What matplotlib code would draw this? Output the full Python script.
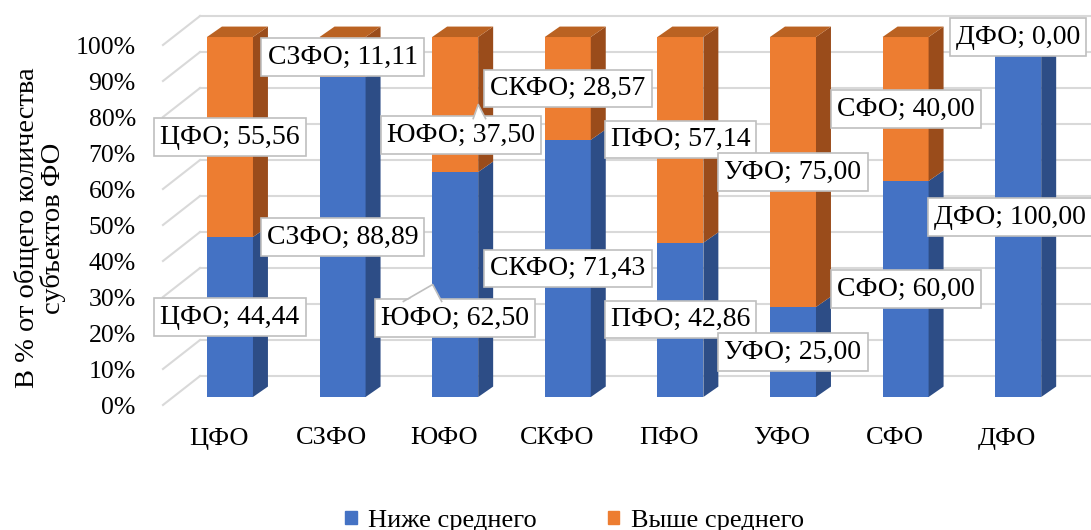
import matplotlib
matplotlib.use("Agg")
import matplotlib.pyplot as plt
from matplotlib.patches import Polygon, Patch
from matplotlib.transforms import ScaledTranslation

plt.rcParams['font.family'] = ['Liberation Serif', 'DejaVu Serif']

# data
districts = ["ЦФО", "СЗФО", "ЮФО", "СКФО", "ПФО", "УФО", "СФО", "ДФО"]
below_avg = [44.44, 88.89, 62.50, 71.43, 42.86, 25.00, 60.00, 100.00]
above_avg = [55.56, 11.11, 37.50, 28.57, 57.14, 75.00, 40.00, 0.00]
series_names = ["Ниже среднего", "Выше среднего"]
yticks = list(range(0, 101, 10))

# hand-moved labels (category index, series) -> (dx, dy) in data units
moved = {(2, 1): (0.05, -8.5), (2, 0): (0.0, -9.3), (7, 0): (-0.07, 0)}
pointer = {(2, 1): (0.16, 0.27, 0.205), (2, 0): (-0.46, -0.12, -0.20)}

blue = {"front": "#4472C4", "top": "#3A62A8", "side": "#2D4D86"}
orange = {"front": "#ED7D31", "top": "#BA6222", "side": "#9A4C1B"}
grid_c = "#D9D9D9"

fig = plt.figure(figsize=(10.91, 5.30), dpi=100)
W, H = 1091, 530
ax = fig.add_axes([140 / W, (H - 415) / H, (W - 140) / W, 415 / H])
ax.set_xlim(-0.799, 7.6465)
ax.set_ylim(-5.0, 110.28)
for s in ax.spines.values():
    s.set_visible(False)

bw = 0.4085       # bar width
ddx, ddy = 0.133, 2.9   # depth offset of the bars
wdx, wdy = -0.266, 5.83  # back wall
fx, fy = -0.595, -2.22   # front floor edge

# walls / gridlines
for v in yticks:
    ax.plot([fx, wdx], [v + fy, v + wdy], color=grid_c, lw=1.5, zorder=0)
    ax.plot([wdx, 7.7], [v + wdy, v + wdy], color=grid_c, lw=1.5, zorder=0)

# bars
x = list(range(len(districts)))
ax.bar(x, below_avg, width=bw, color=blue["front"], zorder=3)
ax.bar(x, above_avg, width=bw, bottom=below_avg, color=orange["front"], zorder=3)

for i in x:
    segs = [(0, below_avg[i], blue), (below_avg[i], below_avg[i] + above_avg[i], orange)]
    for b, t, col in segs:
        if t - b <= 0:
            continue
        r = i + bw / 2
        ax.add_patch(Polygon([(r, b), (r + ddx, b + ddy), (r + ddx, t + ddy), (r, t)],
                             closed=True, fc=col["side"], ec="none", zorder=3))
    top = below_avg[i] + above_avg[i]
    tcol = orange if above_avg[i] > 0 else blue
    l = i - bw / 2
    ax.add_patch(Polygon([(l, top), (l + ddx, top + ddy), (l + bw + ddx, top + ddy), (l + bw, top)],
                         closed=True, fc=tcol["top"], ec="none", zorder=3))

# data labels
box = dict(boxstyle="square,pad=0.22", fc="white", ec="#BFBFBF", lw=1.2)
for i in x:
    for k, (b, v) in enumerate([(0, below_avg[i]), (below_avg[i], above_avg[i])]):
        cy = b + v / 2
        dx, dy = moved.get((i, k), (0, 0))
        txt = f"{districts[i]}; {v:.2f}".replace(".", ",")
        ax.text(i + dx, cy + dy, txt, ha="center", va="center", fontsize=20,
                bbox=box, zorder=10, clip_on=False)
        if (i, k) in pointer:
            b1, b2, tip = pointer[(i, k)]
            ytop = cy + dy + 4.6
            ax.add_patch(Polygon([(i + b1, ytop - 0.4), (i + tip, cy), (i + b2, ytop - 0.4)],
                                 closed=True, fc="white", ec="none", zorder=11))
            ax.plot([i + b1, i + tip, i + b2], [ytop, cy, ytop], color="#BFBFBF", lw=1.2, zorder=12)

# axes text
ax.set_yticks(yticks, [f"{v}%" for v in yticks], fontsize=18.5)
ax.set_xticks(x, districts, fontsize=19)
ax.tick_params(length=0)
ax.tick_params(axis="y", pad=3)
ax.tick_params(axis="x", pad=9)
off = ScaledTranslation(0, -8 / 100, fig.dpi_scale_trans)
for lab in ax.get_yticklabels():
    lab.set_transform(lab.get_transform() + off)
xoff = ScaledTranslation(-11 / 100, 0, fig.dpi_scale_trans)
for lab in ax.get_xticklabels():
    lab.set_transform(lab.get_transform() + xoff)

fig.text(40 / W, 1 - 228 / H, "В % от общего количества\nсубъектов ФО", rotation=90,
         ha="center", va="center", fontsize=20.5, linespacing=0.95)

handles = [Patch(color=blue["front"]), Patch(color=orange["front"])]
fig.legend(handles, series_names, loc="center", bbox_to_anchor=(0.527, 1 - 521 / H),
           ncol=2, frameon=False, fontsize=19, handlelength=0.42, handleheight=0.42,
           handletextpad=0.45, columnspacing=2.7)

fig.savefig("out.png", dpi=100)
